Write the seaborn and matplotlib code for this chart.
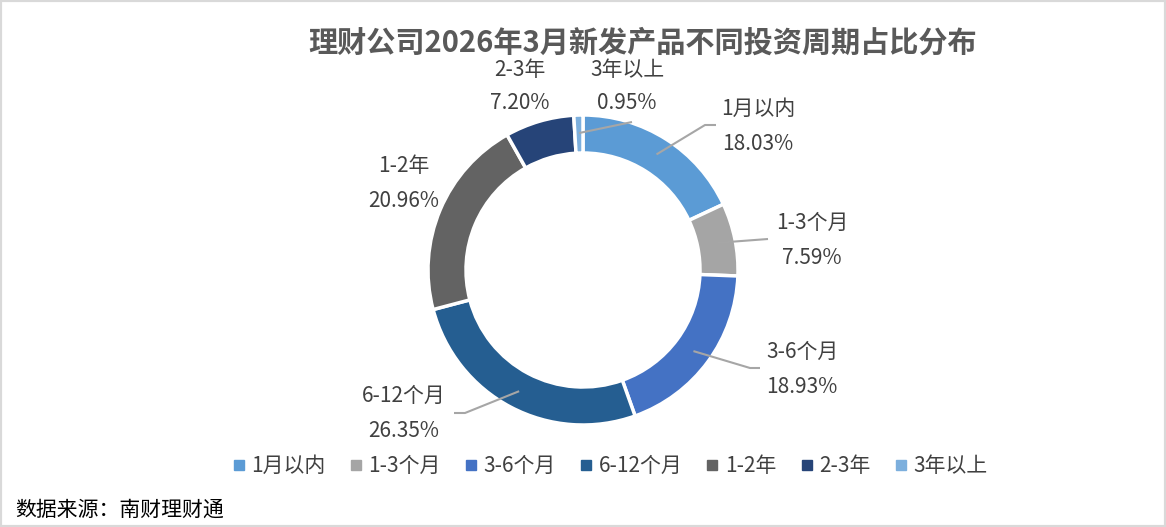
import matplotlib.pyplot as plt
import seaborn as sns
import numpy as np
from matplotlib.patches import Rectangle
from matplotlib.lines import Line2D

# 数据
categories = ['1月以内', '1-3个月', '3-6个月', '6-12个月', '1-2年', '2-3年', '3年以上']
shares = [18.03, 7.59, 18.93, 26.35, 20.96, 7.20, 0.95]
colors = ['#5B9BD5', '#A5A5A5', '#4472C4', '#255E91', '#636363', '#264478', '#7CAFDD']

title = '理财公司2026年3月新发产品不同投资周期占比分布'
source = '数据来源：南财理财通'

sns.set_theme(style='white')
plt.rcParams['font.family'] = ['Noto Sans CJK SC', 'DejaVu Sans']

W, H = 1166, 527
fig = plt.figure(figsize=(W / 100, H / 100), dpi=100)
ax = fig.add_axes([0, 0, 1, 1])

cx, cy, R = 583, H - 270, 155

wedges, _ = ax.pie(shares, colors=colors, startangle=90, counterclock=False,
                   radius=R, center=(cx, cy), frame=True,
                   wedgeprops=dict(width=38, edgecolor='white', linewidth=2.5))
ax.set_xlim(0, W)
ax.set_ylim(0, H)
ax.axis('off')

# 标签位置 (像素, 自上而下), 引导线折点
label_pos = {
    '1月以内': (758, 109),
    '1-3个月': (812, 223),
    '3-6个月': (802, 352),
    '6-12个月': (404, 396),
    '1-2年': (404, 166),
    '2-3年': (520, 70),
    '3年以上': (627, 70),
}
leader = {
    '1月以内': [(705, 125), (716, 125)],
    '3年以上': [(632, 122)],
    '1-3个月': [(768, 239)],
    '3-6个月': [(750, 368), (760, 368)],
    '6-12个月': [(465, 413), (454, 413)],
}

for w, cat, val in zip(wedges, categories, shares):
    lx, ly = label_pos[cat]
    gap = 33 if cat in ('2-3年', '3年以上') else 35
    ax.text(lx, H - ly, cat, ha='center', va='center', fontsize=15, color='#404040')
    ax.text(lx, H - ly - gap, f'{val:.2f}%', ha='center', va='center', fontsize=15, color='#404040')
    if cat in leader:
        mid = np.deg2rad((w.theta1 + w.theta2) / 2)
        sx, sy = cx + 137 * np.cos(mid), cy + 137 * np.sin(mid)
        xs = [sx] + [p[0] for p in leader[cat]]
        ys = [sy] + [H - p[1] for p in leader[cat]]
        ax.plot(xs, ys, color='#A6A6A6', lw=1.5, solid_capstyle='butt')

ax.text(643, H - 43, title, ha='center', va='center', fontsize=21,
        fontweight='bold', color='#595959')

handles = [Line2D([0], [0], marker='s', linestyle='none', markersize=7,
                  markerfacecolor=c, markeredgecolor=c) for c in colors]
leg = ax.legend(handles, categories, ncol=7, loc='center',
                bbox_to_anchor=(609 / W, 1 - 466 / H), frameon=False,
                fontsize=15, handletextpad=0.2, columnspacing=1.05,
                handlelength=0.8)
for t in leg.get_texts():
    t.set_color('#404040')

ax.text(15, H - 510, source, ha='left', va='center', fontsize=15, color='black')

fig.patches.append(Rectangle((0, 0), 1, 1, transform=fig.transFigure,
                             fill=False, edgecolor='#D9D9D9', linewidth=3))

fig.savefig('out.png', dpi=100)
